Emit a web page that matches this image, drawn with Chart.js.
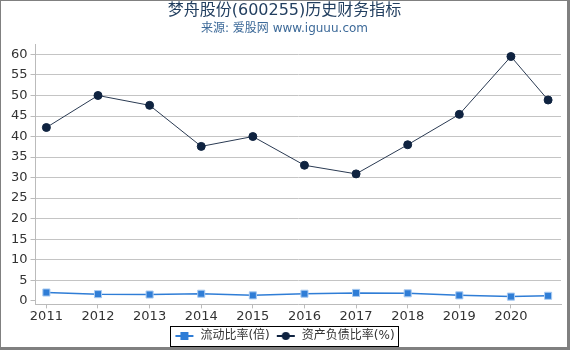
<!DOCTYPE html>
<html>
<head>
<meta charset="utf-8">
<script src="https://cdn.jsdelivr.net/npm/chart.js@4/dist/chart.umd.min.js"></script>
<style>
  body { margin: 0; background: #fff; }
</style>
</head>
<body>
<canvas id="myChart" width="570" height="350"></canvas>
<script>
const years = [2011, 2012, 2013, 2014, 2015, 2016, 2017, 2018, 2019, 2020, 2020.72];
const tickYears = [2011, 2012, 2013, 2014, 2015, 2016, 2017, 2018, 2019, 2020];
const yTicks = [0, 5, 10, 15, 20, 25, 30, 35, 40, 45, 50, 55, 60];
const liquidity = [2.0, 1.6, 1.5, 1.7, 1.3, 1.7, 1.9, 1.8, 1.3, 1.0, 1.2];
const debtRatio = [42.2, 50.0, 47.6, 37.6, 40.0, 33.0, 30.9, 38.0, 45.4, 59.5, 48.9];
const seriesNames = ['流动比率(倍)', '资产负债比率(%)'];

const FONT = "'DejaVu Sans', 'Noto Sans CJK SC', sans-serif";
const blue = '#2f7dd6';
const navy = '#0f2340';

// legend icon: a short line with the marker on it
function legendIcon(color, square) {
    const c = document.createElement('canvas');
    c.width = 20; c.height = 12;
    const g = c.getContext('2d');
    g.strokeStyle = color;
    g.lineWidth = 2;
    g.beginPath(); g.moveTo(1, 6); g.lineTo(19, 6); g.stroke();
    g.fillStyle = color;
    if (square) {
        g.fillRect(6, 2, 8, 8);
    } else {
        g.beginPath(); g.arc(10, 6, 4, 0, Math.PI * 2); g.fill();
    }
    return c;
}
const icons = [legendIcon(blue, true), legendIcon(navy, false)];

const frame = {
    id: 'frame',
    afterDraw(chart) {
        const ctx = chart.ctx;
        ctx.save();
        ctx.fillStyle = '#808080';
        ctx.fillRect(0, 0, 570, 1);
        ctx.fillRect(0, 0, 1, 350);
        ctx.fillRect(567, 0, 3, 350);
        ctx.fillRect(0, 347, 570, 3);
        // box round the legend
        const boxes = chart.legend.legendHitBoxes;
        if (boxes && boxes.length) {
            const l = Math.min(...boxes.map(b => b.left)) - 4;
            const r = Math.max(...boxes.map(b => b.left + b.width)) + 4;
            const t = boxes[0].top - 4;
            const h = boxes[0].height + 8;
            ctx.strokeStyle = '#000';
            ctx.lineWidth = 1;
            ctx.strokeRect(Math.round(l) + 0.5, Math.round(t) + 0.5, Math.round(r - l), Math.round(h));
        }
        ctx.restore();
    }
};

const ctx = document.getElementById('myChart').getContext('2d');
const myChart = new Chart(ctx, {
    type: 'line',
    data: {
        datasets: [{
            label: seriesNames[0],
            data: years.map((x, i) => ({x: x, y: liquidity[i]})),
            borderColor: blue,
            backgroundColor: blue,
            borderWidth: 1.5,
            pointStyle: 'rect',
            pointRadius: 5,
            pointBorderColor: '#a9cbf2',
            pointBorderWidth: 1
        }, {
            label: seriesNames[1],
            data: years.map((x, i) => ({x: x, y: debtRatio[i]})),
            borderColor: '#2a3a52',
            backgroundColor: navy,
            borderWidth: 1,
            pointStyle: 'circle',
            pointRadius: 4,
            pointBorderColor: navy
        }]
    },
    options: {
        responsive: false,
        animation: false,
        layout: { padding: { left: 8, right: 9, top: 0, bottom: -2 } },
        plugins: {
            title: {
                display: true,
                text: '梦舟股份(600255)历史财务指标',
                color: '#223f60',
                font: { family: FONT, size: 16, weight: 'normal' },
                padding: { top: 1, bottom: 0 }
            },
            subtitle: {
                display: true,
                text: '来源: 爱股网 www.iguuu.com',
                color: '#3d6a99',
                font: { family: FONT, size: 12 },
                padding: { top: 1, bottom: 9 }
            },
            legend: {
                position: 'bottom',
                labels: {
                    color: '#333',
                    font: { family: FONT, size: 12 },
                    usePointStyle: true,
                    pointStyleWidth: 20,
                    boxHeight: 12,
                    padding: 6,
                    generateLabels: () => seriesNames.map((n, i) => ({
                        text: n,
                        pointStyle: icons[i],
                        datasetIndex: i,
                        fontColor: '#333',
                        lineWidth: 0
                    }))
                }
            },
            tooltip: { enabled: false }
        },
        scales: {
            x: {
                type: 'linear',
                min: 2010.79,
                max: 2020.97,
                afterBuildTicks: s => { s.ticks = tickYears.map(v => ({value: v})); },
                ticks: {
                    color: '#333',
                    font: { family: FONT, size: 13 },
                    padding: 0,
                    maxRotation: 0,
                    callback: v => String(v)
                },
                grid: { drawOnChartArea: false, drawTicks: true, tickLength: 4, color: '#bbb' },
                border: { color: '#bbb' }
            },
            y: {
                min: -0.9,
                max: 62.4,
                afterBuildTicks: s => { s.ticks = yTicks.map(v => ({value: v})); },
                ticks: {
                    color: '#333',
                    font: { family: FONT, size: 13 },
                    padding: 3
                },
                grid: {
                    color: c => (c.tick && c.tick.value === 0) ? 'rgba(0,0,0,0)' : '#c4c4c4',
                    tickColor: '#bbb',
                    tickLength: 5
                },
                border: { color: '#bbb' }
            }
        }
    },
    plugins: [frame]
});
</script>
</body>
</html>
